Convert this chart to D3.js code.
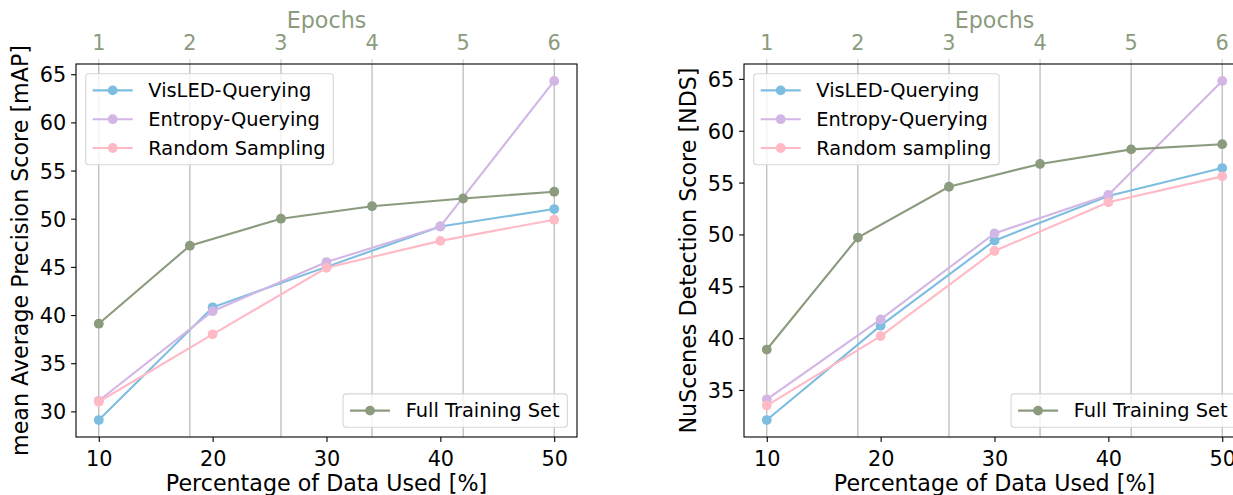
<!DOCTYPE html>
<html>
<head>
<meta charset="utf-8">
<title>Active learning curves</title>
<script src="https://cdn.jsdelivr.net/npm/d3@7"></script>
<style>
body { margin: 0; background: #fff; }
svg { display: block; font-family: "DejaVu Sans", sans-serif; }
</style>
</head>
<body>
<svg id="chart" width="1233" height="495"></svg>
<script>
// x values
var pct = [10, 20, 30, 40, 50];
var epochs = [1, 2, 3, 4, 5, 6];

// left panel: mAP
var mapVisled = [29.1, 40.8, 45.0, 49.2, 51.0];
var mapEntropy = [31.1, 40.4, 45.5, 49.2, 64.3];
var mapRandom = [31.0, 38.0, 44.9, 47.7, 49.9];
var mapFull = [39.1, 47.2, 50.0, 51.3, 52.1, 52.8];

// right panel: NDS
var ndsVisled = [32.1, 41.2, 49.4, 53.7, 56.4];
var ndsEntropy = [34.1, 41.8, 50.1, 53.8, 64.8];
var ndsRandom = [33.5, 40.2, 48.4, 53.1, 55.6];
var ndsFull = [38.9, 49.7, 54.6, 56.8, 58.2, 58.7];

var xTicks = [10, 20, 30, 40, 50];
var mapTicks = [30, 35, 40, 45, 50, 55, 60, 65];
var ndsTicks = [35, 40, 45, 50, 55, 60, 65];

var BLUE = '#7dbde0', LAV = '#d3b6e5', PINK = '#ffbac6', GREEN = '#8b9b7e';
var GRID = '#b0b0b0';

var svg = d3.select('#chart');

var drawPanel = function(p) {
  var top = 64, bottom = 437;
  var x = d3.scaleLinear().domain([8, 52]).range([p.left, p.left + 501]);
  var xe = d3.scaleLinear().domain([1, 6]).range([x(10), x(50)]);
  var all = p.series.map(function(s) { return s.values; }).concat([p.full]);
  var ext = d3.extent(d3.merge(all));
  var pad = (ext[1] - ext[0]) * 0.05;
  var y = d3.scaleLinear().domain([ext[0] - pad, ext[1] + pad]).range([bottom, top]);
  var g = svg.append('g');

  // grid from the epochs axis
  g.selectAll('line.grid').data(epochs).enter().append('line')
    .attr('x1', function(d) { return xe(d); }).attr('x2', function(d) { return xe(d); })
    .attr('y1', top).attr('y2', bottom)
    .attr('stroke', GRID).attr('stroke-width', 1.1);

  // epoch ticks on top
  g.selectAll('line.etick').data(epochs).enter().append('line')
    .attr('x1', function(d) { return xe(d); }).attr('x2', function(d) { return xe(d); })
    .attr('y1', top - 5).attr('y2', top)
    .attr('stroke', '#d0d0d0').attr('stroke-width', 1.1);
  g.selectAll('text.etick').data(epochs).enter().append('text')
    .attr('x', function(d) { return xe(d); }).attr('y', top - 14)
    .attr('text-anchor', 'middle').attr('font-size', 20.8).attr('fill', GREEN)
    .text(function(d) { return d; });
  g.append('text').attr('x', p.left + 250.5).attr('y', top - 36.5)
    .attr('text-anchor', 'middle').attr('font-size', 22.2).attr('fill', GREEN)
    .text('Epochs');

  var line = d3.line().x(function(d, i) { return x(pct[i]); }).y(function(d) { return y(d); });
  p.series.forEach(function(s) {
    g.append('path').datum(s.values).attr('d', line)
      .attr('fill', 'none').attr('stroke', s.color).attr('stroke-width', 2.1);
    g.selectAll(null).data(s.values).enter().append('circle')
      .attr('cx', function(d, i) { return x(pct[i]); }).attr('cy', function(d) { return y(d); })
      .attr('r', 4.9).attr('fill', s.color);
  });
  var eline = d3.line().x(function(d, i) { return xe(epochs[i]); }).y(function(d) { return y(d); });
  g.append('path').datum(p.full).attr('d', eline)
    .attr('fill', 'none').attr('stroke', GREEN).attr('stroke-width', 2.1);
  g.selectAll(null).data(p.full).enter().append('circle')
    .attr('cx', function(d, i) { return xe(epochs[i]); }).attr('cy', function(d) { return y(d); })
    .attr('r', 4.9).attr('fill', GREEN);

  // axes
  var xa = g.append('g').attr('transform', 'translate(0,' + bottom + ')')
    .call(d3.axisBottom(x).tickValues(xTicks).tickSize(4.9).tickPadding(4.9).tickFormat(d3.format('d')));
  var ya = g.append('g').attr('transform', 'translate(' + p.left + ',0)')
    .call(d3.axisLeft(y).tickValues(p.yTicks).tickSize(4.9).tickPadding(4.9).tickFormat(d3.format('d')));
  [xa, ya].forEach(function(a) {
    a.select('.domain').remove();
    a.selectAll('line').attr('stroke', '#000').attr('stroke-width', 1.1);
    a.selectAll('text').attr('font-size', 20.8).attr('fill', '#000')
      .attr('font-family', '"DejaVu Sans", sans-serif');
  });
  xa.selectAll('text').attr('dy', null).attr('y', 29);
  ya.selectAll('text').attr('dy', '0.36em');

  g.append('rect').attr('x', p.left).attr('y', top).attr('width', 501).attr('height', bottom - top)
    .attr('fill', 'none').attr('stroke', '#000').attr('stroke-width', 1.1);

  g.append('text').attr('transform', 'translate(' + (p.left - 48.5) + ',' + ((top + bottom) / 2) + ') rotate(-90)')
    .attr('text-anchor', 'middle').attr('font-size', 22.2).attr('fill', '#000').text(p.ylabel);
  g.append('text').attr('x', p.left + 250.5).attr('y', bottom + 54)
    .attr('text-anchor', 'middle').attr('font-size', 22.2).attr('fill', '#000')
    .text('Percentage of Data Used [%]');

  // legends
  var fs = 19.4;
  var legend = function(items, anchor) {
    var lg = g.append('g');
    var box = lg.append('rect').attr('rx', 3).attr('fill', '#fff').attr('fill-opacity', 0.8)
      .attr('stroke', '#d6d6d6').attr('stroke-width', 1.1);
    var maxw = 0;
    items.forEach(function(it, i) {
      var cy = 16.7 + i * 28.8;
      lg.append('line').attr('x1', 7).attr('x2', 47).attr('y1', cy).attr('y2', cy)
        .attr('stroke', it.color).attr('stroke-width', 2.1);
      lg.append('circle').attr('cx', 27).attr('cy', cy).attr('r', 4.9).attr('fill', it.color);
      var t = lg.append('text').attr('x', 62.6).attr('y', cy).attr('dy', '0.34em')
        .attr('font-size', fs).attr('fill', '#000').text(it.name);
      maxw = Math.max(maxw, t.node().getComputedTextLength());
    });
    var w = 62.6 + maxw + 7.8, h = 33.4 + (items.length - 1) * 28.8;
    box.attr('width', w).attr('height', h);
    var lx = anchor === 'ul' ? p.left + 9.7 : p.left + 501 - 9.7 - w;
    var ly = anchor === 'ul' ? top + 9.7 : bottom - 9.7 - h;
    lg.attr('transform', 'translate(' + lx + ',' + ly + ')');
  };
  legend(p.series, 'ul');
  legend([{ name: 'Full Training Set', color: GREEN }], 'lr');
};

drawPanel({
  left: 76,
  ylabel: 'mean Average Precision Score [mAP]',
  yTicks: mapTicks,
  series: [
    { name: 'VisLED-Querying', color: BLUE, values: mapVisled },
    { name: 'Entropy-Querying', color: LAV, values: mapEntropy },
    { name: 'Random Sampling', color: PINK, values: mapRandom }
  ],
  full: mapFull
});

drawPanel({
  left: 744,
  ylabel: 'NuScenes Detection Score [NDS]',
  yTicks: ndsTicks,
  series: [
    { name: 'VisLED-Querying', color: BLUE, values: ndsVisled },
    { name: 'Entropy-Querying', color: LAV, values: ndsEntropy },
    { name: 'Random sampling', color: PINK, values: ndsRandom }
  ],
  full: ndsFull
});
</script>
</body>
</html>
